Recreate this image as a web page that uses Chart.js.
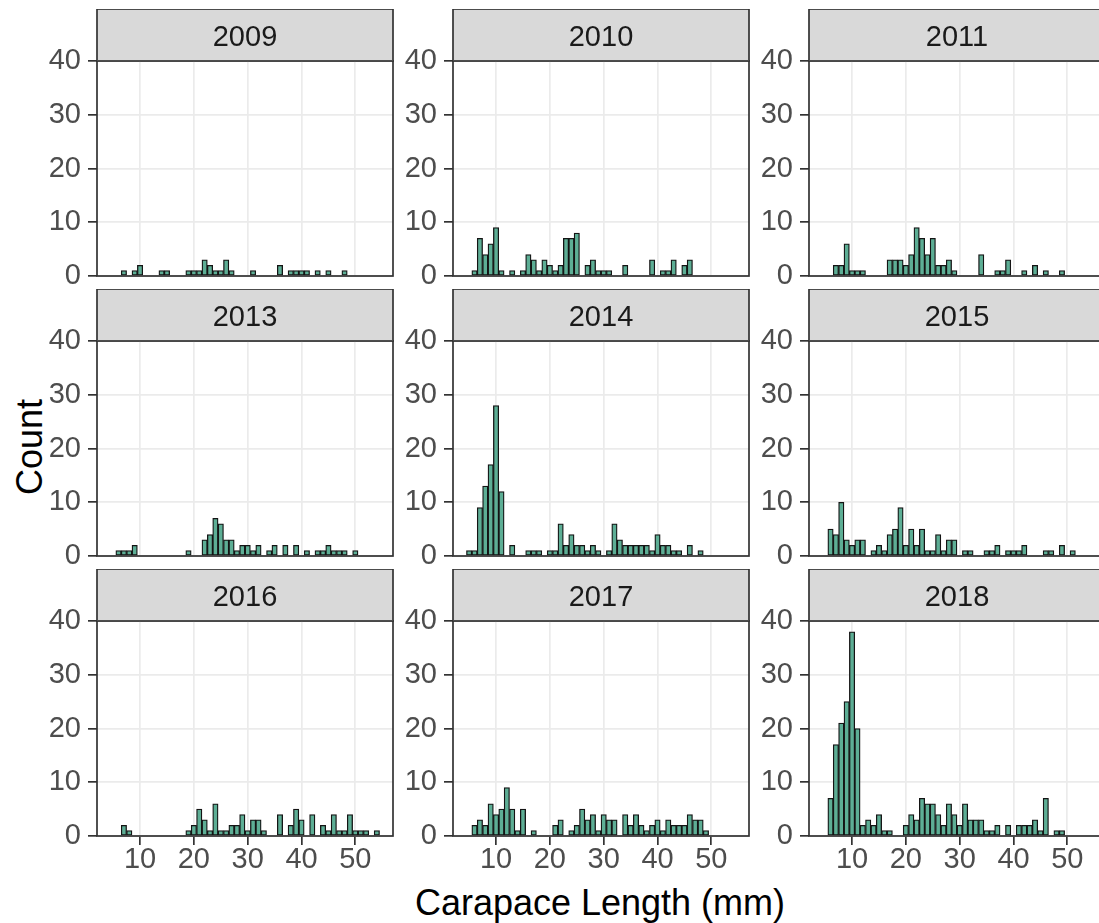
<!DOCTYPE html>
<html>
<head>
<meta charset="utf-8">
<title>Carapace length by year</title>
<script src="https://cdn.jsdelivr.net/npm/chart.js@4.4.1/dist/chart.umd.min.js"></script>
<style>
  html, body { margin: 0; padding: 0; background: #ffffff; overflow: hidden; }
  #fig { position: relative; width: 1099px; height: 923px; overflow: hidden; background: #ffffff;
         font-family: "Liberation Sans", Arial, sans-serif; }
  #fig canvas { position: absolute; }
  .axis-title { position: absolute; font-size: 36px; line-height: 36px; color: #000000; white-space: nowrap; }
  #ytitle { left: 30px; top: 447px; transform: translate(-50%, -50%) rotate(-90deg); }
  #xtitle { left: 600px; top: 885px; transform: translateX(-50%); }
</style>
</head>
<body>
<div id="fig">
  <div class="axis-title" id="ytitle">Count</div>
  <div class="axis-title" id="xtitle">Carapace Length (mm)</div>
</div>
<script>
// Histogram bins (1 mm wide, centred on whole millimetres)
const BIN_CENTERS = [5, 6, 7, 8, 9, 10, 11, 12, 13, 14,
                     15, 16, 17, 18, 19, 20, 21, 22, 23, 24,
                     25, 26, 27, 28, 29, 30, 31, 32, 33, 34,
                     35, 36, 37, 38, 39, 40, 41, 42, 43, 44,
                     45, 46, 47, 48, 49, 50, 51, 52, 53, 54];

const YEARS = ['2009', '2010', '2011', '2013', '2014', '2015', '2016', '2017', '2018'];

// Counts per bin, one list per survey year
const COUNT_2009 = [0,0,1,0,1,2,0,0,0,1, 1,0,0,0,1,1,1,3,2,1, 1,3,1,0,0,0,1,0,0,0, 0,2,0,1,1,1,1,0,1,0, 1,0,0,1,0,0,0,0,0,0];
const COUNT_2010 = [0,1,7,4,6,9,1,0,1,0, 1,4,3,1,3,2,1,2,7,7, 8,0,2,3,1,1,1,0,0,2, 0,0,0,0,3,0,1,1,3,0, 2,3,0,0,0,0,0,0,0,0];
const COUNT_2011 = [0,0,2,2,6,1,1,1,0,0, 0,0,3,3,3,2,4,9,7,4, 7,2,2,3,1,0,0,0,0,4, 0,0,1,1,3,0,0,1,0,2, 0,1,0,0,1,0,0,0,0,0];
const COUNT_2013 = [0,1,1,1,2,0,0,0,0,0, 0,0,0,0,1,0,0,3,4,7, 6,3,3,1,2,2,1,2,0,1, 2,0,2,0,2,0,1,0,1,1, 2,1,1,1,0,1,0,0,0,0];
const COUNT_2014 = [1,1,9,13,17,28,12,0,2,0, 0,1,1,1,0,1,1,6,2,4, 2,2,1,2,1,0,1,6,3,2, 2,2,2,2,1,4,2,2,1,1, 0,2,0,1,0,0,0,0,0,0];
const COUNT_2015 = [0,5,4,10,3,2,3,3,0,1, 2,1,4,5,9,2,5,2,5,1, 1,4,1,3,3,0,1,1,0,0, 1,1,2,0,1,1,1,2,0,0, 0,1,1,0,2,0,1,0,0,0];
const COUNT_2016 = [0,0,2,1,0,0,0,0,0,0, 0,0,0,0,1,2,5,3,1,6, 1,1,2,2,4,1,3,3,1,0, 0,4,0,2,5,3,0,4,0,2, 1,4,1,1,4,1,1,1,0,1];
const COUNT_2017 = [0,2,3,2,6,4,5,9,5,1, 5,0,1,0,0,0,2,3,0,1, 2,5,3,4,1,4,3,3,0,4, 2,4,2,1,2,3,1,3,2,2, 2,4,3,3,1,0,0,0,0,0];
const COUNT_2018 = [0,7,17,21,25,38,20,2,3,2, 4,1,1,0,0,2,4,3,7,6, 6,4,2,6,4,2,6,3,3,3, 1,1,2,0,2,0,2,2,2,3, 1,7,0,1,1,0,0,0,0,0];

const Y_TICKS = [0, 10, 20, 30, 40];
const X_TICKS = [10, 20, 30, 40, 50];

const COUNTS = [COUNT_2009, COUNT_2010, COUNT_2011, COUNT_2013, COUNT_2014,
                COUNT_2015, COUNT_2016, COUNT_2017, COUNT_2018];

// Facet grid geometry
const COL_LEFT = [97, 453, 809];
const ROW_TOP = [61, 341, 621];
const PANEL_W = 296, PANEL_H = 215, STRIP_H = 52;
const GUTTER_L = 97, GUTTER_B = 44, PAD_R = 4;

const FONT = '"Liberation Sans", Arial, sans-serif';
const TEXT_SIZE = 29;

// Grey strip above each panel plus the panel frame drawn over the bars
const facetFrame = {
  id: 'facetFrame',
  beforeDraw(chart, args, opts) {
    const { ctx, chartArea: a } = chart;
    ctx.save();
    ctx.fillStyle = '#D9D9D9';
    ctx.fillRect(a.left, a.top - STRIP_H, a.right - a.left, STRIP_H);
    ctx.strokeStyle = '#333333';
    ctx.lineWidth = 1.7;
    ctx.strokeRect(a.left, a.top - STRIP_H, a.right - a.left, STRIP_H);
    ctx.fillStyle = '#1A1A1A';
    ctx.font = TEXT_SIZE + 'px ' + FONT;
    ctx.textAlign = 'center';
    ctx.textBaseline = 'alphabetic';
    ctx.fillText(opts.text, (a.left + a.right) / 2, a.top - STRIP_H / 2 + TEXT_SIZE * 0.358 + 1);
    ctx.restore();
  },
  afterDatasetsDraw(chart) {
    const { ctx, chartArea: a } = chart;
    ctx.save();
    ctx.strokeStyle = '#333333';
    ctx.lineWidth = 1.7;
    ctx.strokeRect(a.left, a.top, a.right - a.left, a.bottom - a.top);
    ctx.restore();
  }
};

const fig = document.getElementById('fig');

YEARS.forEach((year, i) => {
  const row = Math.floor(i / 3), col = i % 3;
  const isBottom = row === 2;
  const canvas = document.createElement('canvas');
  const w = GUTTER_L + PANEL_W + PAD_R;
  const h = STRIP_H + PANEL_H + GUTTER_B;
  canvas.width = w; canvas.height = h;
  canvas.style.width = w + 'px'; canvas.style.height = h + 'px';
  canvas.style.left = (COL_LEFT[col] - GUTTER_L) + 'px';
  canvas.style.top = (ROW_TOP[row] - STRIP_H) + 'px';
  fig.appendChild(canvas);

  const counts = COUNTS[i];

  new Chart(canvas, {
    type: 'bar',
    data: {
      datasets: [{
        label: year,
        data: BIN_CENTERS.map((c, k) => ({ x: c, y: counts[k] })),
        backgroundColor: '#5DAE95',
        borderColor: '#141414',
        borderWidth: 1.3,
        borderSkipped: false,
        barPercentage: 1,
        categoryPercentage: 1,
        grouped: false
      }]
    },
    options: {
      responsive: false,
      maintainAspectRatio: false,
      animation: false,
      devicePixelRatio: 1,
      events: [],
      layout: { padding: { top: STRIP_H, right: PAD_R, left: 0, bottom: 0 } },
      plugins: {
        legend: { display: false },
        tooltip: { enabled: false },
        facetFrame: { text: year }
      },
      scales: {
        x: {
          type: 'linear',
          min: 2,
          max: 57,
          offset: false,
          afterBuildTicks: axis => { axis.ticks = X_TICKS.map(value => ({ value })); },
          afterFit: axis => { axis.height = GUTTER_B; },
          border: { display: false },
          grid: {
            offset: false,
            color: '#EBEBEB',
            lineWidth: 1.7,
            drawTicks: isBottom,
            tickLength: 9,
            tickColor: '#333333',
            tickWidth: 1.7
          },
          ticks: {
            display: isBottom,
            autoSkip: false,
            maxRotation: 0,
            padding: 0,
            color: '#4D4D4D',
            font: { family: FONT, size: TEXT_SIZE, lineHeight: 1 }
          }
        },
        y: {
          min: 0,
          max: 40,
          afterBuildTicks: axis => { axis.ticks = Y_TICKS.map(value => ({ value })); },
          afterFit: axis => { axis.width = GUTTER_L; },
          border: { display: false },
          grid: {
            color: '#EBEBEB',
            lineWidth: 1.7,
            drawTicks: true,
            tickLength: 9,
            tickColor: '#333333',
            tickWidth: 1.7
          },
          ticks: {
            padding: 7,
            color: '#4D4D4D',
            font: { family: FONT, size: TEXT_SIZE, lineHeight: 1 }
          }
        }
      }
    },
    plugins: [facetFrame]
  });
});
</script>
</body>
</html>
